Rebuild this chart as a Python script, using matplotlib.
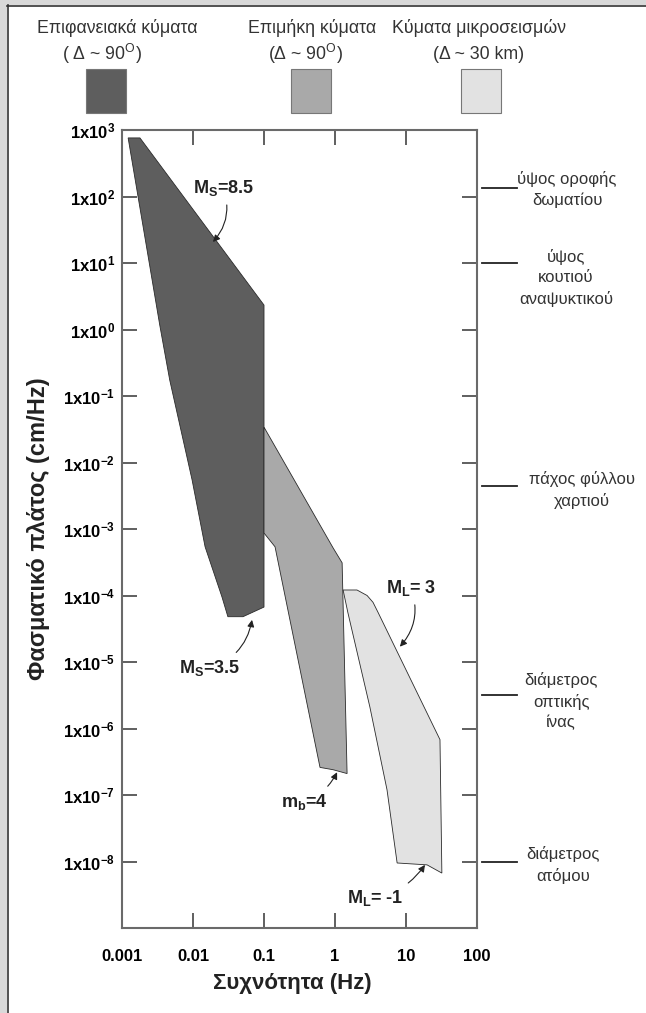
import numpy as np
import matplotlib
matplotlib.use("Agg")
from matplotlib import pyplot as plt
from matplotlib.patches import Polygon, Rectangle

plt.rcParams['font.family'] = ['Liberation Sans', 'DejaVu Sans']
plt.rcParams['mathtext.fontset'] = 'custom'
plt.rcParams['mathtext.rm'] = 'Liberation Sans'
plt.rcParams['mathtext.bf'] = 'Liberation Sans:bold'
plt.rcParams['mathtext.it'] = 'Liberation Sans:italic'

# spectral amplitude regions (frequency Hz, amplitude cm/Hz)
surface_f = [0.00122, 0.00179, 0.1, 0.1, 0.0506, 0.031, 0.0256, 0.0148, 0.0097, 0.0047, 0.0034]
surface_a = [7.6e2, 7.6e2, 2.33, 6.7e-5, 4.8e-5, 4.8e-5, 9.5e-5, 5.4e-4, 5.5e-3, 0.174, 1.17]

body_f = [0.1, 0.94, 1.26, 1.48, 0.94, 0.615, 0.143, 0.1]
body_a = [0.034, 5.2e-4, 3.1e-4, 2.1e-7, 2.4e-7, 2.6e-7, 5.4e-4, 8.7e-4]

micro_f = [1.3, 2.04, 2.83, 3.43, 4.03, 30.1, 32.0, 19.8, 7.5, 5.4, 3.1, 1.52]
micro_a = [1.21e-4, 1.21e-4, 1.0e-4, 7.9e-5, 5.6e-5, 6.8e-7, 6.7e-9, 8.9e-9, 9.5e-9, 1.2e-7, 2.1e-6, 5.5e-5]

group_names = ["Επιφανειακά κύματα", "Επιμήκη κύματα", "Κύματα μικροσεισμών"]
group_dist = ["( Δ ~ 90$^{\\mathrm{O}}$)", "(Δ ~ 90$^{\\mathrm{O}}$)", "(Δ ~ 30 km)"]
group_colors = ['#5e5e5e', '#a9a9a9', '#e2e2e2']

# magnitude labels: text, arrow tip, text position
mag_labels = [r'$\mathbf{M_S}$=8.5', r'$\mathbf{M_S}$=3.5', r'$\mathbf{m_b}$=4',
              r'$\mathbf{M_L}$= 3', r'$\mathbf{M_L}$= -1']
mag_tip = [(0.0191, 20.7), (0.0678, 4.3e-5), (1.07, 2.2e-7), (8.2, 1.7e-5), (18.5, 8.9e-9)]
mag_text = [(0.0265, 134), (0.0173, 8.1e-6), (0.366, 7.85e-8), (11.7, 1.3e-4), (3.66, 2.8e-9)]
mag_rad = [-0.3, 0.3, 0.2, -0.3, 0.2]

# scale references on the right
ref_heights = [10**2.13, 10**1.0, 10**-2.35, 10**-5.5, 10**-8.0]
ref_text_y = [10**2.11, 10**0.774, 10**-2.41, 10**-5.59, 10**-8.05]
ref_labels = ["ύψος οροφής\nδωματίου", "ύψος\nκουτιού\nαναψυκτικού", "πάχος φύλλου\nχαρτιού",
              "διάμετρος\nοπτικής\nίνας", "διάμετρος\nατόμου"]
ref_text_x = [1.254, 1.251, 1.296, 1.237, 1.242]

x_ticks = [0.001, 0.01, 0.1, 1, 10, 100]
x_ticklabels = ["0.001", "0.01", "0.1", "1", "10", "100"]
y_exps = list(range(-8, 4))

W, H = 646, 1013
fig = plt.figure(figsize=(W / 100, H / 100), dpi=100)

# background layer in pixel coordinates
bg = fig.add_axes([0, 0, 1, 1], zorder=0)
bg.set_xlim(0, W)
bg.set_ylim(H, 0)
bg.axis('off')
bg.add_patch(Rectangle((0, 0), W, 5, color='#d9d9d9', lw=0))
bg.add_patch(Rectangle((0, 0), 7, H, color='#d9d9d9', lw=0))
bg.plot([7, W], [5.5, 5.5], color='#333333', lw=1.2)
bg.plot([7.5, 7.5], [5, H], color='#333333', lw=1.2)

sq_x = [86, 291, 461]
name_x = [117, 312, 479]
dist_x = [102, 305, 479]
for i in range(3):
    bg.add_patch(Rectangle((sq_x[i], 69), 40, 44, facecolor=group_colors[i],
                           edgecolor='#777777', lw=0.8))
    bg.text(name_x[i], 28, group_names[i], ha='center', va='center', fontsize=12.8, color='#333333')
    bg.text(dist_x[i], 54, group_dist[i], ha='center', va='center', fontsize=12.8, color='#333333')

ax = fig.add_axes([122 / W, 1 - 928 / H, 355 / W, 798 / H], zorder=1)
ax.set_xscale('log')
ax.set_yscale('log')
ax.set_xlim(1e-3, 1e2)
ax.set_ylim(1e-9, 1e3)

for fx, ay, c in [(surface_f, surface_a, group_colors[0]),
                  (body_f, body_a, group_colors[1]),
                  (micro_f, micro_a, group_colors[2])]:
    ax.add_patch(Polygon(np.column_stack([fx, ay]), closed=True, facecolor=c,
                         edgecolor='#2a2a2a', lw=0.6))

for lab, tip, pos, rad in zip(mag_labels, mag_tip, mag_text, mag_rad):
    ax.annotate(lab, xy=tip, xytext=pos, ha='center', va='center',
                fontsize=13, fontweight='bold', color='#222222',
                arrowprops=dict(arrowstyle='-|>', connectionstyle='arc3,rad=%s' % rad,
                                color='#222222', lw=0.8, shrinkA=3, shrinkB=0,
                                mutation_scale=10))

tr = ax.get_yaxis_transform()
for h, tx, ty, lab in zip(ref_heights, ref_text_x, ref_text_y, ref_labels):
    ax.plot([1.014, 1.113], [h, h], color='#222222', lw=1.3, transform=tr, clip_on=False)
    ax.text(tx, ty, lab, transform=tr, ha='center', va='center', fontsize=12,
            color='#333333', linespacing=1.45)

ax.set_xticks(x_ticks)
ax.set_xticklabels(x_ticklabels)
ax.set_yticks([10.0**e for e in y_exps])
ax.set_yticklabels([r'$\mathbf{1x10^{%d}}$' % e for e in y_exps])
ax.minorticks_off()
ax.tick_params(which='both', direction='in', top=True, right=True, length=11,
               width=1.2, color='#444444', labelsize=12)
ax.tick_params(axis='x', pad=15)
ax.tick_params(axis='y', pad=5)
for t in ax.get_xticklabels():
    t.set_fontweight('bold')
for s in ax.spines.values():
    s.set_color('#6a6a6a')
    s.set_linewidth(1.5)

ax.set_xlabel("Συχνότητα (Hz)", fontsize=16, fontweight='bold', color='#222222')
ax.xaxis.set_label_coords(0.48, -0.069)
ax.xaxis.label.set_va('center')
ax.set_ylabel("Φασματικό πλάτος (cm/Hz)", fontsize=17, fontweight='bold', color='#222222')
ax.yaxis.set_label_coords(-0.234, 0.5)
ax.yaxis.label.set_va('center')

plt.savefig("out.png", dpi=100)
